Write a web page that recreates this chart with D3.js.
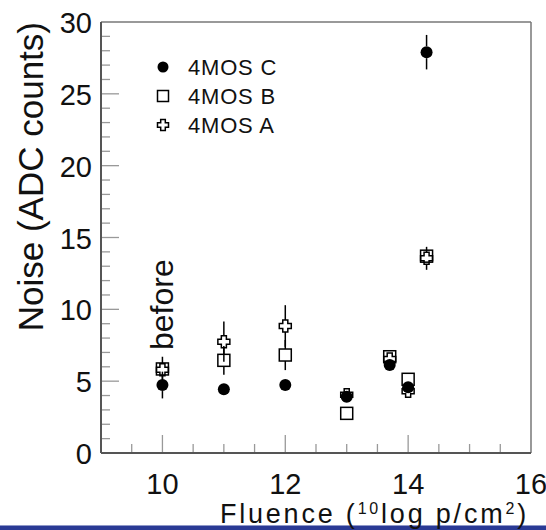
<!DOCTYPE html>
<html>
<head>
<meta charset="utf-8">
<script src="https://cdn.jsdelivr.net/npm/d3@7"></script>
<style>
  html, body { margin: 0; padding: 0; background: #fff; }
  svg { display: block; }
  text { font-family: "Liberation Sans", Arial, Helvetica, sans-serif; fill: #111; }
</style>
</head>
<body>
<svg id="chart" width="546" height="530"></svg>
<script>
// ---- data ----
const fluence = [10, 11, 12, 13, 13.7, 14, 14.3];
const noiseC = [4.73, 4.43, 4.73, 3.92, 6.12, 4.57, 27.9];
const errC   = [0.93, 0.3, 0.3, 0.4, 0.35, 0.35, 1.2];
const noiseB = [5.85, 6.45, 6.82, 2.76, 6.7, 5.13, 13.7];
const errB   = [0.3, 1.0, 1.05, 0.3, 0.3, 0.3, 0.4];
const noiseA = [5.8, 7.75, 8.84, 4.05, 6.55, 4.3, 13.55];
const errA   = [0.9, 1.4, 1.45, 0.3, 0.3, 0.4, 0.8];
const seriesNames = ["4MOS C", "4MOS B", "4MOS A"];
const xTicks = [10, 12, 14, 16];
const yTicks = [0, 5, 10, 15, 20, 25, 30];
const xDomain = [9, 16];
const yDomain = [0, 30];

// ---- layout ----
const svg = d3.select("#chart");
const L = 101, R = 531, T = 22, B = 453;
const x = d3.scaleLinear().domain(xDomain).range([L, R]);
const y = d3.scaleLinear().domain(yDomain).range([B, T]);

// bottom blue bar
svg.append("rect").attr("x", 0).attr("y", 525).attr("width", 546).attr("height", 1).attr("fill", "#8f98c9");
svg.append("rect").attr("x", 0).attr("y", 526).attr("width", 546).attr("height", 4).attr("fill", "#2a3a95");

// frame (top/right)
svg.append("line").attr("x1", L).attr("x2", R).attr("y1", T).attr("y2", T).attr("stroke", "#777").attr("stroke-width", 1.5);
svg.append("line").attr("x1", R).attr("x2", R).attr("y1", T).attr("y2", B).attr("stroke", "#777").attr("stroke-width", 1.5);

// x ticks: major with long ticks, minor every 0.5
const xMinor = d3.range(9, 16.001, 0.5).filter(v => !xTicks.includes(v));
const gx = svg.append("g");
gx.selectAll("line.minor").data(xMinor).join("line")
  .attr("x1", d => x(d)).attr("x2", d => x(d)).attr("y1", B).attr("y2", B - 9)
  .attr("stroke", "#999").attr("stroke-width", 1.3);
gx.selectAll("line.major").data(xTicks).join("line")
  .attr("x1", d => x(d)).attr("x2", d => x(d)).attr("y1", B).attr("y2", B - 18)
  .attr("stroke", "#999").attr("stroke-width", 1.3);
gx.selectAll("text").data(xTicks).join("text")
  .attr("x", d => x(d)).attr("y", 494).attr("text-anchor", "middle")
  .attr("font-size", 29).text(d => d);

// y ticks: major every 5, minor every 1
const yMinor = d3.range(0, 30.001, 1).filter(v => !yTicks.includes(v));
const gy = svg.append("g");
gy.selectAll("line.minor").data(yMinor).join("line")
  .attr("x1", L).attr("x2", L + 9).attr("y1", d => y(d)).attr("y2", d => y(d))
  .attr("stroke", "#999").attr("stroke-width", 1.3);
gy.selectAll("line.major").data(yTicks).join("line")
  .attr("x1", L).attr("x2", L + 18).attr("y1", d => y(d)).attr("y2", d => y(d))
  .attr("stroke", "#999").attr("stroke-width", 1.3);
gy.selectAll("text").data(yTicks).join("text")
  .attr("x", 92).attr("y", d => y(d) + 11).attr("text-anchor", "end")
  .attr("font-size", 29).text(d => d);

// axis lines (left/bottom)
svg.append("line").attr("x1", L).attr("x2", L).attr("y1", T).attr("y2", B).attr("stroke", "#555").attr("stroke-width", 2);
svg.append("line").attr("x1", L).attr("x2", R).attr("y1", B).attr("y2", B).attr("stroke", "#555").attr("stroke-width", 2);

// axis titles
svg.append("text")
  .attr("transform", `translate(43,${T}) rotate(-90)`)
  .attr("text-anchor", "end").attr("font-size", 35)
  .text("Noise (ADC counts)");

const xt = svg.append("text").attr("x", R - 2).attr("y", 523).attr("text-anchor", "end")
  .attr("font-size", 27).attr("letter-spacing", 2.8);
xt.append("tspan").text("Fluence (");
xt.append("tspan").attr("font-size", 16).attr("dy", -9).text("10");
xt.append("tspan").attr("dy", 9).text("log p/cm");
xt.append("tspan").attr("font-size", 16).attr("dy", -9).text("2");
xt.append("tspan").attr("dy", 9).text(")");

// "before" label
svg.append("text")
  .attr("transform", `translate(173,350) rotate(-90)`)
  .attr("font-size", 32).text("before");

// ---- markers ----
const rM = 6;
function crossPath(s) {
  const a = s, b = s * 0.42;
  return `M${-b},${-a}H${b}V${-b}H${a}V${b}H${b}V${a}H${-b}V${b}H${-a}V${-b}H${-b}Z`;
}
function drawSeries(vals, errs, kind) {
  const g = svg.append("g");
  const pts = fluence.map((f, i) => ({ f, v: vals[i], e: errs[i] }));
  pts.forEach(p => {
    const cx = x(p.f), cy = y(p.v), top = y(p.v + p.e), bot = y(p.v - p.e);
    if (cy - rM > top) g.append("line").attr("x1", cx).attr("x2", cx).attr("y1", top).attr("y2", cy - rM)
      .attr("stroke", "#000").attr("stroke-width", 1.5);
    if (bot > cy + rM) g.append("line").attr("x1", cx).attr("x2", cx).attr("y1", cy + rM).attr("y2", bot)
      .attr("stroke", "#000").attr("stroke-width", 1.5);
  });
  pts.forEach(p => drawMarker(g, kind, x(p.f), y(p.v), rM));
}
function drawMarker(g, kind, cx, cy, r) {
  if (kind === "C") {
    g.append("circle").attr("cx", cx).attr("cy", cy).attr("r", r).attr("fill", "#000");
  } else if (kind === "B") {
    g.append("rect").attr("x", cx - r).attr("y", cy - r).attr("width", 2 * r).attr("height", 2 * r)
      .attr("fill", "none").attr("stroke", "#000").attr("stroke-width", 1.5);
  } else {
    g.append("path").attr("transform", `translate(${cx},${cy})`).attr("d", crossPath(r))
      .attr("fill", "none").attr("stroke", "#000").attr("stroke-width", 1.5);
  }
}
drawSeries(noiseA, errA, "A");
drawSeries(noiseB, errB, "B");
drawSeries(noiseC, errC, "C");

// ---- legend ----
const kinds = ["C", "B", "A"];
const legY = [67, 96, 125];
const lg = svg.append("g");
seriesNames.forEach((n, i) => {
  drawMarker(lg, kinds[i], 163, legY[i], 5.5);
  lg.append("text").attr("x", 188).attr("y", legY[i] + 8).attr("font-size", 22)
    .attr("letter-spacing", 0.8).text(n);
});
</script>
</body>
</html>
